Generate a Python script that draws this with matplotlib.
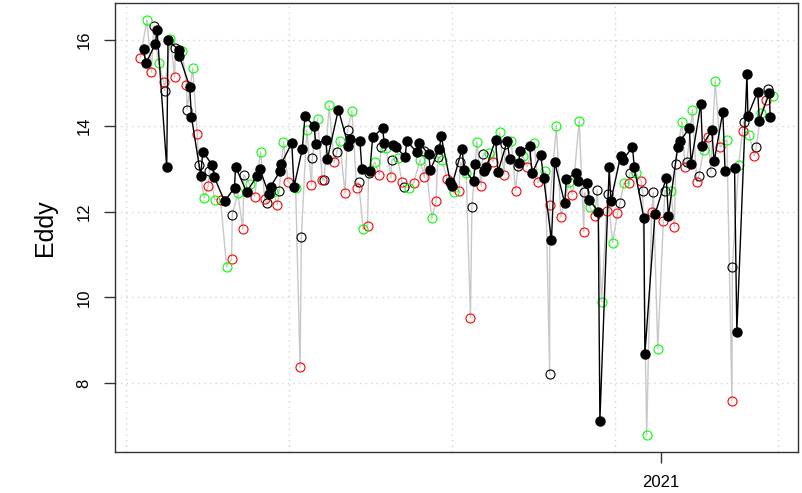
import numpy as np
import matplotlib
matplotlib.use("Agg")
import matplotlib.pyplot as plt
import matplotlib.dates as mdates

plt.rcParams['font.family'] = ['Liberation Sans', 'DejaVu Sans']

# days after 2020-02-08
start = mdates.date2num(np.datetime64('2020-02-08'))

# filled black points (joined by black line)
fill_day = [10.8, 12.3, 18.0, 19.1, 25.0, 25.8, 32.3, 32.8, 39.1, 40.2, 45.9, 47.1,
            52.9, 54.1, 60.5, 66.6, 67.2, 74.0, 80.6, 82.0, 87.7, 88.7, 94.6, 95.2,
            101.7, 103.1, 108.2, 109.8, 115.4, 116.4, 122.6, 123.6, 130.3, 136.5, 137.3,
            143.5, 144.7, 149.6, 151.3, 157.4, 158.4, 164.0, 165.6, 171.3, 172.2, 178.5,
            179.6, 185.7, 186.7, 192.3, 193.3, 199.0, 199.9, 206.2, 207.3, 213.2, 214.2,
            219.9, 221.0, 226.7, 228.2, 233.9, 235.3, 240.8, 241.9, 247.6, 249.1, 254.4,
            256.2, 261.0, 263.0, 269.1, 270.2, 275.9, 277.4, 282.9, 284.1, 289.7, 290.7,
            296.4, 297.4, 303.4, 304.6, 310.7, 311.8, 317.7, 318.3, 324.5, 331.4, 332.7,
            338.4, 339.9, 345.6, 346.6, 352.6, 353.6, 359.3, 360.8, 366.1, 367.5, 373.3,
            374.7, 380.9, 381.5, 387.5, 388.5, 394.6, 395.2]
fill_val = [15.79, 15.46, 15.91, 16.23, 13.03, 16.0, 15.77, 15.63, 14.91, 14.2, 12.84, 13.40,
            13.09, 12.81, 12.24, 12.56, 13.05, 12.46, 12.84, 13.0, 12.41, 12.58, 12.95, 13.11,
            13.6, 12.58, 13.47, 14.22, 14.0, 13.58, 13.67, 13.23, 14.38, 13.52, 13.69,
            13.65, 13.0, 12.94, 13.73, 13.95, 13.61, 13.56, 13.5, 13.28, 13.65, 13.38,
            13.61, 13.34, 12.97, 13.47, 13.77, 12.68, 12.60, 13.47, 12.98, 12.72, 13.12,
            12.94, 13.03, 13.68, 12.93, 13.65, 13.23, 13.13, 13.42, 13.52, 12.89, 13.33,
            12.78, 11.34, 13.15, 12.20, 12.76, 12.90, 12.72, 12.67, 12.28, 12.0, 7.13,
            13.03, 12.24, 13.30, 13.2, 13.5, 13.03, 11.84, 8.68, 11.94, 12.78, 11.89,
            13.51, 13.64, 13.95, 13.12, 14.51, 13.54, 13.90, 13.17, 14.33, 12.95, 13.01,
            9.2, 15.21, 14.24, 14.80, 14.12, 14.76, 14.2]

# open black points
open_day = [17.0, 23.7, 30.3, 37.5, 44.6, 51.2, 65.2, 72.3, 86.3, 93.9, 107.6, 114.3,
            121.5, 129.4, 135.9, 142.7, 148.8, 156.4, 163.2, 170.7, 183.0, 191.3, 205.2,
            212.2, 219.0, 232.8, 240.5, 259.9, 281.2, 289.1, 295.5, 303.0, 309.2, 317.0,
            323.5, 330.6, 337.2, 344.0, 351.5, 358.7, 372.0, 378.9, 386.6, 393.6]
open_val = [16.33, 14.82, 15.81, 14.38, 13.09, 12.95, 11.93, 12.86, 12.2, 12.47, 11.42, 13.26,
            12.74, 13.4, 13.90, 12.68, 12.9, 13.5, 13.21, 12.58, 13.42, 13.28, 13.15,
            12.11, 13.34, 13.58, 13.07, 8.21, 12.45, 12.51, 12.41, 12.19, 12.91, 12.47,
            12.45, 12.49, 13.12, 13.15, 12.84, 12.93, 10.72, 14.1, 13.51, 14.87]

# red open points
red_day = [8.8, 15.6, 23.1, 29.9, 37.1, 43.7, 50.4, 58.0, 64.8, 71.7, 78.9, 85.1, 92.9,
           99.4, 106.8, 113.8, 120.5, 127.7, 134.4, 141.5, 148.2, 155.4, 162.5, 169.3,
           176.5, 183.0, 190.2, 197.0, 204.2, 211.3, 217.9, 225.1, 231.9, 239.0, 246.0,
           252.8, 259.9, 266.7, 273.9, 280.8, 287.6, 294.8, 301.5, 308.7, 315.9, 322.4,
           329.6, 336.4, 342.9, 350.1, 357.3, 364.5, 371.7, 378.2, 385.4, 392.5]
red_val = [15.59, 15.25, 15.03, 15.13, 14.96, 13.82, 12.59, 12.28, 10.89, 11.59, 12.35, 12.29,
           12.16, 12.70, 8.37, 12.63, 12.74, 13.15, 12.43, 12.56, 11.67, 12.86, 12.80, 12.68,
           12.67, 12.80, 12.24, 12.76, 12.47, 9.52, 12.60, 13.16, 12.86, 12.49, 13.05,
           12.68, 12.16, 11.88, 12.39, 11.53, 11.9, 12.02, 11.96, 12.66, 12.72, 11.98,
           11.77, 11.65, 13.05, 12.70, 13.75, 13.5, 7.59, 13.89, 13.30, 14.6]

# green open points
green_day = [12.9, 20.0, 27.2, 34.4, 41.0, 48.0, 54.5, 61.7, 68.6, 75.8, 82.6, 90.4, 96.6,
             104.1, 110.9, 117.5, 124.6, 131.0, 138.6, 145.6, 152.7, 159.5, 166.7, 173.4,
             180.4, 187.6, 193.9, 201.1, 208.7, 215.3, 222.4, 229.2, 236.3, 243.5, 250.3,
             257.3, 264.0, 271.8, 278.0, 284.5, 291.7, 298.5, 305.4, 312.8, 319.4, 326.2,
             334.2, 341.0, 347.5, 354.3, 361.4, 368.6, 375.8, 382.4, 389.5, 396.7]
green_val = [16.47, 15.46, 16.02, 15.75, 15.35, 12.32, 12.28, 10.72, 12.43, 12.64, 13.40, 12.45,
             13.63, 12.55, 13.91, 14.16, 14.48, 13.65, 14.34, 11.59, 13.15, 13.48, 13.25,
             12.56, 13.21, 11.84, 13.2, 12.45, 12.91, 13.63, 13.37, 13.85, 13.65, 13.30,
             13.6, 12.94, 14.0, 12.68, 14.12, 12.11, 9.9, 11.28, 12.66, 12.89, 6.79, 8.8,
             12.49, 14.1, 14.38, 13.44, 15.05, 13.68, 13.09, 13.79, 14.30, 14.69]

fx = start + np.array(fill_day)
ox = start + np.array(open_day)
rx = start + np.array(red_day)
gx = start + np.array(green_day)

# all open points joined in time order by the grey line
all_x = np.concatenate([ox, rx, gx])
all_y = np.concatenate([open_val, red_val, green_val])
order = np.argsort(all_x)

fig = plt.figure(figsize=(8.03, 4.93), dpi=100)
ax = fig.add_axes([115 / 803, 1 - 451.7 / 493, (798 - 115) / 803, (451.7 - 3.3) / 493])

# R style 4% range expansion
xs = np.concatenate([all_x, fx])
ys = np.concatenate([all_y, fill_val])
dx = xs.max() - xs.min()
dy = ys.max() - ys.min()
ax.set_xlim(xs.min() - 0.04 * dx, xs.max() + 0.04 * dx)
ax.set_ylim(ys.min() - 0.04 * dy, ys.max() + 0.04 * dy)

# grid like R grid()
for g in [0, 100, 200, 300, 400]:
    ax.axvline(start + g, color='#d3d3d3', lw=1, ls=(0, (1, 3)), zorder=0)
for g in [8, 10, 12, 14, 16]:
    ax.axhline(g, color='#d3d3d3', lw=1, ls=(0, (1, 3)), zorder=0)

ax.plot(all_x[order], all_y[order], color='#c8c8c8', lw=1, zorder=1)
ax.plot(ox, open_val, 'o', mfc='none', mec='black', ms=6.5, mew=0.8, zorder=2)
ax.plot(rx, red_val, 'o', mfc='none', mec='#ff0000', ms=6.5, mew=0.8, zorder=2)
ax.plot(gx, green_val, 'o', mfc='none', mec='#00ff00', ms=6.5, mew=0.8, zorder=2)
ax.plot(fx, fill_val, '-', color='black', lw=1, zorder=3)
ax.plot(fx, fill_val, 'o', color='black', ms=6.5, zorder=4)

ax.set_yticks([8, 10, 12, 14, 16])
ax.set_yticklabels(['8', '10', '12', '14', '16'], rotation=90, va='center', fontsize=12)
ax.set_xticks([mdates.date2num(np.datetime64('2021-01-01'))])
ax.set_xticklabels(['2021'], fontsize=12)
ax.tick_params(axis='both', length=8, width=1, color='#333333', pad=9)
ax.set_ylabel('Eddy', fontsize=18, labelpad=14)
for s in ax.spines.values():
    s.set_linewidth(1)
    s.set_color('#333333')

fig.savefig('out.png', dpi=100)
